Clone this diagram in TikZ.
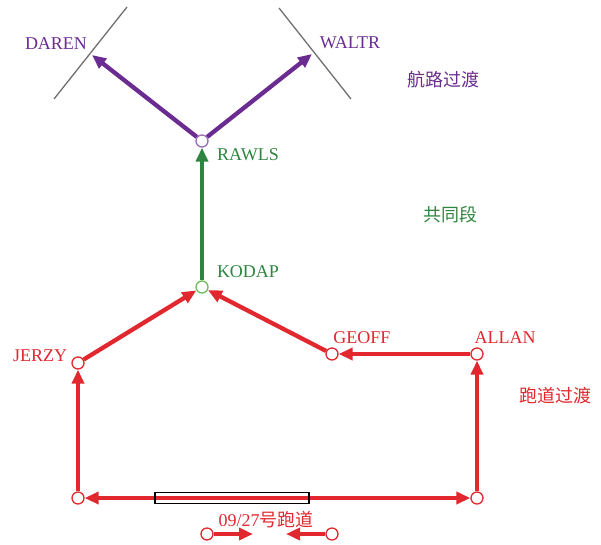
\documentclass[tikz,border=0pt]{standalone}
\usepackage{fontspec}
\setmainfont{Liberation Serif}
\newfontfamily\cjk{Noto Sans CJK SC}
\usetikzlibrary{arrows.meta}
\definecolor{rtred}{HTML}{E0282E}
\definecolor{rtpurple}{HTML}{6B2C91}
\definecolor{rtgreen}{HTML}{2E8540}
\definecolor{lpurple}{HTML}{9A6BB8}
\definecolor{lgreen}{HTML}{6DBE5A}
\definecolor{rtgray}{HTML}{707070}
\tikzset{
  fix/.style={circle,draw=#1,fill=white,line width=1.3pt,minimum size=12pt,inner sep=0pt},
  lbl/.style={text=#1,font=\fontsize{18}{20}\selectfont,inner sep=0pt},
  cjklbl/.style={text=#1,font=\fontsize{18}{20}\selectfont\cjk,inner sep=0pt},
  tip/.style={-{Triangle[length=14pt,width=12pt]}},
  redarr/.style={tip,draw=rtred,line width=4.3pt},
  purarr/.style={tip,draw=rtpurple,line width=4.3pt},
  grnarr/.style={tip,draw=rtgreen,line width=3.6pt},
  bound/.style={draw=rtgray,line width=1.3pt},
  runway/.style={draw=black,line width=1.3pt,minimum width=154pt,minimum height=11pt,inner sep=0pt}
}
\begin{document}
\begin{tikzpicture}[x=1pt,y=-1pt]
\useasboundingbox (0,0) rectangle (601,544);
% boundary lines
\coordinate (g1a) at (127,7);
\coordinate (g1b) at (54,99);
\coordinate (g2a) at (279,8);
\coordinate (g2b) at (351,99);
\draw[bound] (g1a) -- (g1b);
\draw[bound] (g2a) -- (g2b);
% fixes
\node[fix=lpurple] (rawls) at (202,141) {};
\node[fix=lgreen] (kodap) at (202,287) {};
\node[fix=rtred] (jerzy) at (78,363) {};
\node[fix=rtred] (geoff) at (332,354) {};
\node[fix=rtred] (allan) at (477,354) {};
\node[fix=rtred] (bl) at (78,498) {};
\node[fix=rtred] (br) at (477,498) {};
\node[fix=rtred] (s1) at (207,534) {};
\node[fix=rtred] (s2) at (332,534) {};
\coordinate (daren) at (92,55);
\coordinate (waltr) at (312,54);
\coordinate (t1) at (253,534);
\coordinate (t2) at (286,534);
\coordinate (rwyc) at (232,498);
% connectors
\draw[purarr] (rawls) -- (daren);
\draw[purarr] (rawls) -- (waltr);
\draw[grnarr] (kodap) -- (rawls);
\draw[redarr] (jerzy) -- (kodap);
\draw[redarr] (geoff) -- (kodap);
\draw[redarr] (allan) -- (geoff);
\draw[redarr] (bl) -- (jerzy);
\draw[redarr] (br) -- (allan);
\draw[redarr] (rwyc) -- (bl);
\draw[redarr] (rwyc) -- (br);
\draw[redarr] (s1) -- (t1);
\draw[redarr] (s2) -- (t2);
\node[runway] (rwy) at (rwyc) {};
% labels
\node[lbl=rtpurple] (ldaren) at (56,44) {DAREN};
\node[lbl=rtpurple] (lwaltr) at (350,43) {WALTR};
\node[cjklbl=rtpurple] (lenr) at (443,80) {航路过渡};
\node[lbl=rtgreen] (lrawls) at (248,155) {RAWLS};
\node[lbl=rtgreen] (lkodap) at (248,272) {KODAP};
\node[cjklbl=rtgreen] (lcom) at (450,215) {共同段};
\node[lbl=rtred] (ljerzy) at (40,356) {JERZY};
\node[lbl=rtred] (lgeoff) at (362,338) {GEOFF};
\node[lbl=rtred] (lallan) at (505,338) {ALLAN};
\node[cjklbl=rtred] (lrwt) at (555,396) {跑道过渡};
\node[lbl=rtred] (lrwy) at (266,520) {09/27{\cjk 号跑道}};
\end{tikzpicture}
\end{document}
